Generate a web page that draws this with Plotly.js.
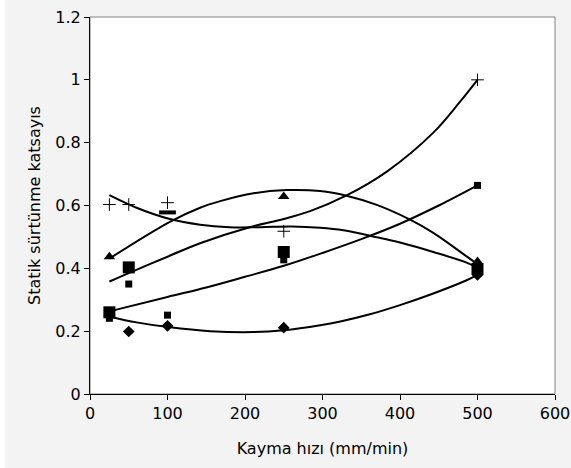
<!DOCTYPE html>
<html>
<head>
<meta charset="utf-8">
<script src="https://cdn.plot.ly/plotly-3.0.1.min.js"></script>
<style>
  html, body { margin: 0; padding: 0; background: #ffffff; }
  #chart { position: absolute; left: 5px; top: 0; width: 566px; height: 468px; }
</style>
</head>
<body>
<div id="chart"></div>
<script>
// ---- Data ----
const xTickVals = [0, 100, 200, 300, 400, 500, 600];
const yTickVals = [0, 0.2, 0.4, 0.6, 0.8, 1, 1.2];

// marker series
const plusX = [25, 50, 100, 250, 500];
const plusY = [0.603, 0.603, 0.609, 0.518, 1.0];

const triX = [25, 250, 500];
const triY = [0.437, 0.629, 0.422];

const bigSqX = [25, 50, 250, 500];
const bigSqY = [0.260, 0.403, 0.452, 0.398];

const smallSqX = [25, 50, 100, 250, 500];
const smallSqY = [0.241, 0.350, 0.251, 0.427, 0.664];

const diamondX = [25, 50, 100, 250, 500];
const diamondY = [0.250, 0.199, 0.217, 0.211, 0.379];

const dashX = [100];
const dashY = [0.578];

// trend lines
const trendRiseX = [25, 50, 100, 142, 206, 250, 284, 331, 383, 443, 477, 500];
const trendRiseY = [0.358, 0.385, 0.437, 0.480, 0.531, 0.557, 0.582, 0.632, 0.708, 0.832, 0.929, 1.0];

const trendArcX = [25, 103, 142, 168, 211, 254, 297, 331, 370, 413, 443, 486, 500];
const trendArcY = [0.431, 0.548, 0.593, 0.614, 0.639, 0.649, 0.646, 0.631, 0.602, 0.555, 0.513, 0.438, 0.413];

const trendFallX = [25, 60, 103, 142, 180, 220, 260, 297, 327, 370, 400, 443, 486, 500];
const trendFallY = [0.633, 0.593, 0.557, 0.539, 0.531, 0.531, 0.533, 0.529, 0.521, 0.499, 0.482, 0.452, 0.418, 0.401];

const trendLinX = [25, 100, 150, 200, 250, 300, 350, 400, 450, 500];
const trendLinY = [0.263, 0.309, 0.339, 0.373, 0.408, 0.449, 0.493, 0.542, 0.600, 0.664];

const trendLowX = [25, 60, 101, 155, 211, 250, 297, 323, 360, 400, 443, 486, 500];
const trendLowY = [0.246, 0.228, 0.213, 0.200, 0.197, 0.203, 0.219, 0.231, 0.253, 0.283, 0.320, 0.362, 0.379];

// ---- Traces ----
const lineStyle = {color: '#000000', width: 2, shape: 'spline', smoothing: 1};
function trend(x, y) {
  return {x: x, y: y, type: 'scatter', mode: 'lines', line: lineStyle, hoverinfo: 'skip', showlegend: false};
}
function pts(x, y, marker) {
  return {x: x, y: y, type: 'scatter', mode: 'markers', marker: marker, showlegend: false};
}

const traces = [
  trend(trendRiseX, trendRiseY),
  trend(trendArcX, trendArcY),
  trend(trendFallX, trendFallY),
  trend(trendLinX, trendLinY),
  trend(trendLowX, trendLowY),
  pts(diamondX, diamondY, {symbol: 'diamond', size: 9, color: '#000000'}),
  pts(smallSqX, smallSqY, {symbol: 'square', size: 7, color: '#000000'}),
  pts(bigSqX, bigSqY, {symbol: 'square', size: 12, color: '#000000'}),
  pts(triX, triY, {symbol: 'triangle-up', size: 10, color: '#000000'}),
  pts(plusX, plusY, {symbol: 'cross-thin', size: 9, color: '#000000', line: {color: '#000000', width: 1}}),
  pts(dashX, dashY, {symbol: 'line-ew', size: 12, color: '#000000', line: {color: '#000000', width: 4}})
];

const fontFam = 'DejaVu Sans, Verdana, sans-serif';
const layout = {
  width: 566,
  height: 468,
  margin: {l: 85, r: 16, t: 17, b: 74},
  paper_bgcolor: '#f3f3f3',
  plot_bgcolor: '#ffffff',
  font: {family: fontFam, size: 16, color: '#000000'},
  showlegend: false,
  xaxis: {
    range: [0, 600],
    tickvals: xTickVals,
    ticks: 'outside', ticklen: 5, tickcolor: '#000000', tickwidth: 1,
    showgrid: false, zeroline: false,
    showline: true, linecolor: '#000000', linewidth: 1,
    title: {text: 'Kayma hızı (mm/min)', font: {family: fontFam, size: 16}, standoff: 20},
    tickfont: {family: fontFam, size: 16}
  },
  yaxis: {
    range: [0, 1.2],
    tickvals: yTickVals,
    ticks: 'outside', ticklen: 5, tickcolor: '#000000', tickwidth: 1,
    showgrid: false, zeroline: false,
    showline: true, linecolor: '#000000', linewidth: 1,
    title: {text: 'Statik sürtünme katsayıs', font: {family: fontFam, size: 16}, standoff: 10},
    tickfont: {family: fontFam, size: 16}
  },
  shapes: [
    {type: 'rect', xref: 'paper', yref: 'paper', x0: 0, x1: 1, y0: 0, y1: 1,
     line: {color: '#808080', width: 1}, fillcolor: 'rgba(0,0,0,0)', layer: 'below'}
  ]
};

Plotly.newPlot('chart', traces, layout, {displayModeBar: false, staticPlot: true});
</script>
</body>
</html>
